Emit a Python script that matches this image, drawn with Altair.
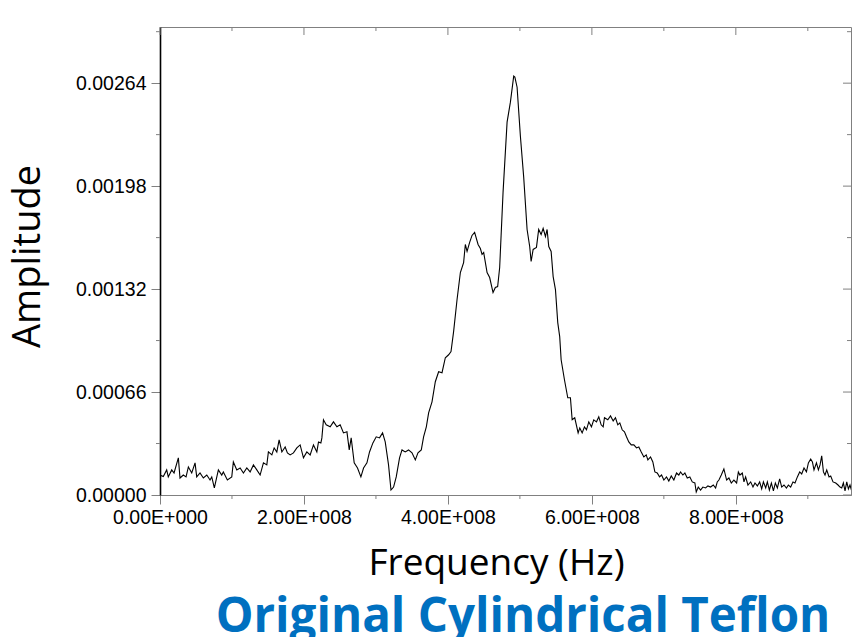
import altair as alt
import pandas as pd

# Frequency in MHz, amplitude in units of 1e-5
freq_mhz = [
    0, 4.6, 9.3, 11.5, 16.3, 19.5, 25.5, 27.8, 32.4, 36.2,
    39.4, 44.1, 48.7, 51.0, 55.6, 60.2, 65.0, 69.5, 71.9, 75.5,
    81.1, 85.8, 88.0, 93.6, 99.7, 101.9, 106.7, 111.3, 115.9, 120.6,
    125.2, 129.8, 134.5, 139.1, 143.7, 148.4, 150.6, 155.4, 158.6, 162.3,
    165.5, 169.3, 173.9, 177.0, 180.8, 185.4, 190.1, 194.7, 199.3, 204.0,
    208.6, 213.2, 217.9, 220.2, 223.5, 224.9, 227.1, 230.9, 236.4, 241.0,
    245.8, 250.3, 254.9, 259.7, 262.9, 265.6, 269.8, 274.4, 279.1, 282.8,
    287.5, 291.1, 295.8, 300.4, 305.0, 309.2, 312.9, 317.5, 320.9, 324.5,
    328.2, 332.8, 336.2, 340.7, 345.3, 350.1, 354.7, 358.4, 363.0, 366.2,
    370.0, 373.2, 377.9, 382.5, 387.1, 391.8, 396.4, 401.0, 404.3, 407.9,
    412.7, 417.3, 421.8, 424.2, 426.6, 430.2, 433.5, 437.1, 441.9, 445.1,
    447.4, 449.7, 454.4, 458.0, 462.7, 465.9, 469.1, 471.9, 476.6, 482.2,
    486.8, 491.4, 493.0, 496.1, 500.7, 505.3, 510.0, 513.6, 515.6, 518.4,
    523.0, 526.1, 529.5, 532.3, 535.5, 537.8, 540.1, 543.4, 546.2, 549.4,
    552.6, 555.3, 557.3, 561.9, 566.5, 570.2, 572.6, 576.2, 580.9, 583.2,
    586.5, 589.7, 592.5, 595.7, 599.4, 602.6, 606.4, 609.6, 612.9, 615.7,
    617.5, 622.1, 625.9, 629.6, 632.8, 636.0, 638.8, 642.1, 645.3, 648.1,
    651.3, 654.7, 658.3, 662.0, 665.2, 668.6, 672.2, 675.5, 677.8, 681.5,
    684.7, 687.5, 690.8, 694.0, 696.8, 700.0, 703.7, 706.9, 710.3, 713.9,
    717.6, 720.8, 723.2, 726.4, 729.2, 732.5, 736.1, 739.5, 743.1, 745.0,
    747.8, 751.0, 754.2, 758.0, 761.2, 764.9, 768.7, 771.9, 774.2, 776.5,
    779.8, 783.4, 787.2, 790.4, 793.7, 797.3, 801.1, 803.5, 805.7, 809.0,
    811.3, 813.6, 816.8, 820.6, 823.8, 826.6, 829.9, 833.1, 835.9, 838.3,
    841.5, 843.8, 846.6, 849.4, 852.2, 854.9, 857.7, 860.9, 863.7, 866.9,
    870.3, 873.0, 876.2, 879.4, 882.2, 885.5, 888.7, 891.5, 894.7, 898.1,
    900.8, 904.0, 906.4, 908.6, 912.0, 914.7, 917.0, 919.3, 921.7, 923.9,
    926.3, 929.5, 931.8, 935.0, 938.8, 942.0, 944.7, 947.1, 949.4, 951.7,
    954.1, 956.4, 958.6, 960.6,
]
amp_e5 = [
    12.8, 11.8, 16.1, 11.6, 16.1, 14.1, 23.8, 10.9, 12.8, 11.6,
    18.0, 14.1, 20.6, 11.6, 14.1, 10.9, 12.8, 9.6, 11.6, 4.5,
    16.1, 12.8, 14.8, 9.6, 11.6, 21.2, 16.1, 17.3, 14.1, 17.3,
    14.8, 19.3, 16.1, 12.8, 20.6, 19.3, 27.6, 25.7, 30.2, 27.6,
    35.3, 27.6, 30.8, 27.0, 25.7, 27.0, 30.2, 32.1, 23.8, 27.6,
    25.7, 32.1, 27.6, 34.0, 33.4, 36.6, 48.2, 45.0, 43.7, 46.9,
    43.7, 45.0, 39.8, 40.5, 28.9, 36.6, 20.6, 17.3, 11.6, 17.3,
    20.6, 27.6, 33.4, 37.3, 36.6, 39.8, 34.0, 19.3, 3.2, 5.1,
    11.6, 23.8, 28.9, 27.6, 28.9, 27.0, 22.5, 27.0, 28.9, 37.3,
    43.7, 52.7, 59.7, 72.6, 79.0, 78.4, 88.0, 89.9, 91.9, 104.7,
    125.3, 142.6, 149.0, 160.6, 156.1, 161.9, 166.4, 168.3, 160.6, 158.0,
    154.2, 155.4, 142.6, 139.4, 129.8, 133.0, 133.6, 145.8, 194.0, 239.0,
    251.8, 268.5, 267.9, 261.4, 230.0, 203.6, 170.2, 159.3, 149.7, 157.4,
    158.7, 170.2, 167.0, 170.9, 165.7, 170.2, 159.3, 156.1, 140.0, 131.7,
    110.5, 101.5, 86.7, 73.9, 62.3, 62.3, 48.2, 49.5, 39.8, 43.0,
    39.8, 43.7, 41.8, 46.9, 43.7, 48.2, 46.9, 50.1, 45.0, 43.7,
    49.5, 48.2, 50.7, 47.5, 49.5, 45.0, 46.2, 41.8, 40.5, 37.3,
    34.0, 32.1, 32.1, 30.2, 30.8, 27.6, 24.4, 25.7, 22.5, 24.4,
    21.2, 14.8, 14.1, 11.6, 12.8, 9.6, 11.6, 9.0, 12.2, 9.6,
    14.1, 12.8, 14.8, 12.8, 14.1, 10.9, 11.6, 8.4, 7.7, 1.9,
    5.1, 3.2, 5.1, 4.5, 5.8, 5.1, 6.4, 4.5, 8.4, 9.6,
    12.8, 16.7, 9.6, 10.9, 7.7, 9.6, 7.7, 14.8, 12.8, 14.1,
    8.4, 11.6, 6.4, 8.4, 5.1, 7.7, 5.8, 8.4, 3.9, 8.4,
    4.5, 8.4, 3.2, 7.7, 2.6, 7.7, 4.5, 10.3, 5.1, 6.4,
    4.5, 6.4, 5.1, 8.4, 7.7, 11.6, 14.8, 13.5, 17.3, 14.8,
    20.6, 23.1, 21.2, 16.1, 20.6, 16.1, 19.3, 25.1, 14.8, 12.8,
    16.1, 11.6, 12.2, 8.4, 7.7, 6.4, 5.1, 4.5, 7.7, 2.6,
    8.4, 3.9, 6.4, 3.2,
]
assert len(freq_mhz) == len(amp_e5)

x_major = [0, 2e8, 4e8, 6e8, 8e8]
x_minor = [1e8, 3e8, 5e8, 7e8, 9e8]
y_major = [0, 0.00066, 0.00132, 0.00198, 0.00264]
y_minor = [0.00033, 0.00099, 0.00165, 0.00231, 0.00297]
title_text = ["Original Cylindrical Teflon"]

df = pd.DataFrame({"freq": [f * 1e6 for f in freq_mhz],
                   "amp": [a * 1e-5 for a in amp_e5]})

W, H = 691, 468
GRAY = "#808080"
xs = alt.Scale(domain=[0, 9.6e8], nice=False, zero=False)
ys = alt.Scale(domain=[0, 0.003], nice=False, zero=False)

x_axis = alt.Axis(
    values=x_major,
    labelExpr="datum.value == 0 ? '0.00E+000' : format(datum.value / 1e8, '.2f') + 'E+008'",
    labelFont="Liberation Sans", labelFontSize=19.5, labelColor="black",
    labelFlush=False, labelOverlap=False, labelPadding=4,
    tickSize=9, tickColor=GRAY, tickWidth=1,
    domainColor=GRAY, domainWidth=1, grid=False,
    title="Frequency (Hz)", titleFont="Open Sans", titleFontSize=37,
    titleFontWeight="normal", titleColor="black",
    titleBaseline="alphabetic", titleAlign="center", titleX=336, titleY=79,
)
y_axis = alt.Axis(
    values=y_major, format=".5f",
    labelFont="Liberation Sans", labelFontSize=19.5, labelColor="black",
    labelOverlap=False, labelPadding=5,
    tickSize=9, tickColor=GRAY, tickWidth=1,
    domainColor="black", domainWidth=1.6, grid=False,
    title="Amplitude", titleFont="Open Sans", titleFontSize=38,
    titleFontWeight="normal", titleColor="black", titleAngle=270,
    titleBaseline="alphabetic", titleAlign="center", titleX=-121, titleY=229,
)

line = alt.Chart(df).mark_line(color="black", strokeWidth=1.1, clip=True).encode(
    x=alt.X("freq:Q", scale=xs, axis=x_axis),
    y=alt.Y("amp:Q", scale=ys, axis=y_axis),
)

def xticks(vals, y0, y1):
    return alt.Chart(pd.DataFrame({"freq": vals})).mark_rule(color=GRAY, strokeWidth=1).encode(
        x=alt.X("freq:Q", scale=xs, axis=x_axis), y=alt.value(y0), y2=alt.value(y1))

def yticks(vals, x0, x1):
    return alt.Chart(pd.DataFrame({"amp": vals})).mark_rule(color=GRAY, strokeWidth=1).encode(
        y=alt.Y("amp:Q", scale=ys, axis=y_axis), x=alt.value(x0), x2=alt.value(x1))

top_major = xticks(x_major, 0, 8)
top_minor = xticks(x_minor, 0, 4)
bottom_minor = xticks(x_minor, H, H + 4)
right_major = yticks(y_major, W - 8, W)
right_minor = yticks(y_minor, W - 4, W)
left_minor = yticks(y_minor, -4, 0)

title = alt.Chart(pd.DataFrame({"t": title_text})).mark_text(
    font="Open Sans", fontWeight="bold", fontSize=47.5, color="#0070C0",
    align="center", baseline="alphabetic"
).encode(x=alt.value(363), y=alt.value(605), text="t:N")

chart = alt.layer(
    line, top_major, top_minor, bottom_minor, right_major, right_minor, left_minor, title
).properties(
    width=W, height=H,
    autosize=alt.AutoSizeParams(type="none"),
    padding={"left": 160, "top": 27, "right": 3, "bottom": 142},
    background="white",
).configure_view(stroke=GRAY, strokeWidth=1)

chart.save("out.html", embed_options={"renderer": "svg", "actions": False})
